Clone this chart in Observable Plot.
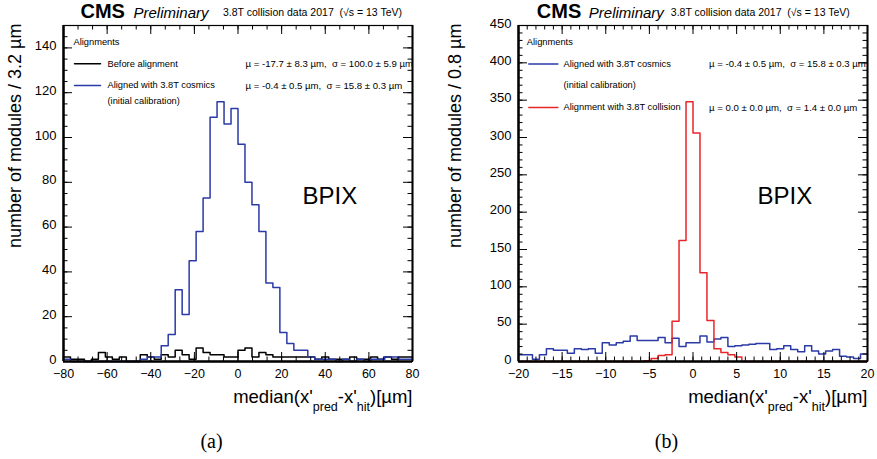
<!DOCTYPE html>
<html><head><meta charset="utf-8">
<script src="https://cdn.jsdelivr.net/npm/d3@7"></script>
<script src="https://cdn.jsdelivr.net/npm/@observablehq/plot@0.6"></script>
<style>
body{margin:0;background:#fff;}
#wrap{display:flex;width:877px;height:459px;overflow:hidden;}
svg text{white-space:pre;}
</style></head><body><div id="wrap"></div>
<script>
// ---------- data ----------
// left panel (a): bins of 3.2 µm from -80 to 80
const leftBinStart = -80, leftBinWidth = 3.2;
const leftBefore = [2,1,1,0,1,4,2,1,2,0, 0,3,2,1,3,2,5,3,1,6, 4,3,3,2,2,5,6,2,4,3, 2,2,2,2,2,2,1,2,1,1, 1,2,1,1,2,1,2,1,2,2];
const leftCosmics = [1,0,0,0,0,0,0,0,0,0, 0,1,2,2,7,12,32,21,45,58, 73,109,116,106,113,97,80,70,58,35, 33,13,8,5,5,2,1,1,1,0, 1,0,1,0,1,1,2,2,1,1];
// right panel (b): bins of 0.8 µm from -20 to 20
const rightBinStart = -20, rightBinWidth = 0.8;
const rightCosmics = [9,9,3,9,17,15,15,11,17,16, 17,11,25,22,25,27,34,28,28,28, 32,25,31,20,25,25,34,26,30,32, 20,21,22,23,24,24,16,17,21,16, 13,21,14,10,14,16,7,6,4,10];
const rightCollision = [0,0,0,0,0,0,0,0,0,0, 0,0,0,0,0,0,0,0,1,4, 8,9,54,162,348,306,119,55,17,12, 9,6,0,0,0,0,0,0,0,0, 0,0,0,0,0,0,0,0,0,0];

const leftXDomain = [-80, 80], leftYDomain = [0, 150];
const rightXDomain = [-20, 20], rightYDomain = [0, 450];
const leftXTicks = [-80,-60,-40,-20,0,20,40,60,80];
const leftYTicks = [0,20,40,60,80,100,120,140];
const rightXTicks = [-20,-15,-10,-5,0,5,10,15,20];
const rightYTicks = [0,50,100,150,200,250,300,350,400,450];

const leftYLabel = "number of modules / 3.2 µm";
const rightYLabel = "number of modules / 0.8 µm";
const xLabelParts = ["median(x'", "pred", "-x'", "hit", ")[µm]"];
const panelTags = ["(a)", "(b)"];
const regionLabel = "BPIX";
const titleParts = ["CMS", "Preliminary", "3.8T collision data 2017  (√s = 13 TeV)"];
const legendHeader = "Alignments";
const leftLegend = [
  {name: "Before alignment", stats: "µ = -17.7 ± 8.3 µm,  σ = 100.0 ± 5.9 µm", color: "#000000"},
  {name: "Aligned with 3.8T cosmics", stats: "µ = -0.4 ± 0.5 µm,  σ = 15.8 ± 0.3 µm", color: "#2a3aa6", sub: "(initial calibration)"}
];
const rightLegend = [
  {name: "Aligned with 3.8T cosmics", stats: "µ = -0.4 ± 0.5 µm,  σ = 15.8 ± 0.3 µm", color: "#2a3aa6", sub: "(initial calibration)"},
  {name: "Alignment with 3.8T collision", stats: "µ = 0.0 ± 0.0 µm,  σ = 1.4 ± 0.0 µm", color: "#e8262a"}
];

// ---------- helpers ----------
function steps(counts, start, width) {
  const pts = counts.map((c, i) => ({x: start + i * width, y: c}));
  pts.push({x: start + counts.length * width, y: counts[counts.length - 1]});
  return pts;
}
const lineShape = {draw(ctx, l) { ctx.moveTo(0, 0); ctx.lineTo(0, -l); }};
const FONT = "Liberation Sans, Arial, Helvetica, sans-serif";

function panel(cfg) {
  const W = cfg.width - cfg.ml - cfg.mr, H = cfg.height - cfg.mt - cfg.mb;
  const marks = [];
  for (const h of cfg.hists) {
    marks.push(Plot.line(steps(h.counts, cfg.binStart, cfg.binWidth), {x: "x", y: "y", curve: "step-after", stroke: h.color, strokeWidth: 1.5}));
  }
  marks.push(Plot.frame({stroke: "#000", strokeWidth: 1.2}));
  marks.push(Plot.ruleX([cfg.xDomain[0]], {stroke: "#000", strokeWidth: 2.5}));
  marks.push(Plot.ruleX([cfg.xDomain[1]], {stroke: "#000", strokeWidth: 2}));
  marks.push(Plot.ruleY([cfg.yDomain[0]], {stroke: "#000", strokeWidth: 2.5}));
  const maj = 9, mnr = 4.5;
  marks.push(Plot.ruleX(cfg.xMinor, {insetTop: H - mnr, stroke: "#000", strokeWidth: 1}));
  marks.push(Plot.ruleX(cfg.xMinor, {insetBottom: H - mnr, stroke: "#000", strokeWidth: 1}));
  marks.push(Plot.ruleX(cfg.xTicks, {insetTop: H - maj, stroke: "#000", strokeWidth: 1}));
  marks.push(Plot.ruleX(cfg.xTicks, {insetBottom: H - maj, stroke: "#000", strokeWidth: 1}));
  marks.push(Plot.ruleY(cfg.yMinor, {insetRight: W - mnr, stroke: "#000", strokeWidth: 1}));
  marks.push(Plot.ruleY(cfg.yMinor, {insetLeft: W - mnr, stroke: "#000", strokeWidth: 1}));
  marks.push(Plot.ruleY(cfg.yTicks, {insetRight: W - maj, stroke: "#000", strokeWidth: 1}));
  marks.push(Plot.ruleY(cfg.yTicks, {insetLeft: W - maj, stroke: "#000", strokeWidth: 1}));
  marks.push(Plot.axisX(cfg.xTicks, {anchor: "bottom", tickSize: 0, tickPadding: 8, fontSize: 12.5, label: null, fill: "#000"}));
  marks.push(Plot.axisY(cfg.yTicks, {anchor: "left", tickSize: 0, tickPadding: 7, fontSize: 13, label: null, fill: "#000", dy: -2}));
  marks.push(Plot.text([cfg.yLabel], {text: d => d, frameAnchor: "top-left", dx: cfg.yLabelDx, dy: -2, rotate: -90, textAnchor: "end", lineAnchor: "middle", fontSize: 18, fill: "#000"}));
  marks.push(Plot.text([xLabelParts.join("")], {text: d => d, frameAnchor: "bottom-right", dx: 0, dy: 41, textAnchor: "end", lineAnchor: "bottom", fontSize: 18.5, fill: "#000"}));
  marks.push(Plot.text([cfg.tag], {text: d => d, frameAnchor: "bottom-left", dx: 148, dy: 80, textAnchor: "middle", lineAnchor: "middle", fontSize: 20, fontFamily: "Liberation Serif, DejaVu Serif, serif", fill: "#000"}));
  marks.push(Plot.text([regionLabel], {text: d => d, frameAnchor: "top-left", dx: 239, dy: 178, textAnchor: "start", lineAnchor: "bottom", fontSize: 24, fill: "#000"}));
  marks.push(Plot.text([titleParts[0]], {text: d => d, frameAnchor: "top-left", dx: cfg.titleDx[0], dy: -7.5, textAnchor: "start", lineAnchor: "bottom", fontSize: 20, fontWeight: "bold", fill: "#000"}));
  marks.push(Plot.text([titleParts[1]], {text: d => d, frameAnchor: "top-left", dx: cfg.titleDx[1], dy: -8, textAnchor: "start", lineAnchor: "bottom", fontSize: 15, fontStyle: "italic", fill: "#000"}));
  marks.push(Plot.text([titleParts[2]], {text: d => d, frameAnchor: "top-left", dx: cfg.titleDx[2], dy: -10, textAnchor: "start", lineAnchor: "bottom", fontSize: 10.5, fill: "#000"}));
  const lf = 9.3;
  marks.push(Plot.text([legendHeader], {text: d => d, frameAnchor: "top-left", dx: cfg.legHeadDx, dy: 17, textAnchor: "start", lineAnchor: "middle", fontSize: lf, fill: "#000"}));
  for (const e of cfg.legend) {
    marks.push(Plot.vector([e], {frameAnchor: "top-left", dx: cfg.legLineDx, dy: e.dy, rotate: 90, length: cfg.legLineLen, anchor: "start", shape: lineShape, stroke: e.color, strokeWidth: 1.5}));
    marks.push(Plot.text([e], {text: "name", frameAnchor: "top-left", dx: cfg.legTextDx, dy: e.dy, textAnchor: "start", lineAnchor: "middle", fontSize: lf, fill: "#000"}));
    marks.push(Plot.text([e], {text: "stats", frameAnchor: "top-left", dx: cfg.legStatsDx, dy: e.dy, textAnchor: "start", lineAnchor: "middle", fontSize: 9.6, fill: "#000", clip: "frame"}));
    if (e.sub) marks.push(Plot.text([e], {text: "sub", frameAnchor: "top-left", dx: cfg.legTextDx, dy: e.subDy, textAnchor: "start", lineAnchor: "middle", fontSize: lf, fill: "#000"}));
  }
  const svg = Plot.plot({
    width: cfg.width, height: cfg.height,
    marginLeft: cfg.ml, marginRight: cfg.mr, marginTop: cfg.mt, marginBottom: cfg.mb,
    x: {domain: cfg.xDomain}, y: {domain: cfg.yDomain},
    style: {fontFamily: FONT, background: "#fff", color: "#000", overflow: "visible"},
    marks
  });
  const full = xLabelParts.join("");
  for (const t of svg.querySelectorAll("text")) {
    if (t.textContent === full) {
      t.textContent = "";
      xLabelParts.forEach((p, i) => {
        const ts = document.createElementNS("http://www.w3.org/2000/svg", "tspan");
        ts.textContent = p;
        if (i % 2 === 1) { ts.setAttribute("font-size", "12.5"); ts.setAttribute("dy", "8"); }
        else if (i > 0) ts.setAttribute("dy", "-8");
        t.appendChild(ts);
      });
    }
  }
  return svg;
}

const wrap = document.getElementById("wrap");
wrap.appendChild(panel({
  width: 438, height: 459, ml: 63, mr: 26, mt: 25, mb: 98,
  xDomain: leftXDomain, yDomain: leftYDomain,
  xTicks: leftXTicks, yTicks: leftYTicks,
  xMinor: d3.range(leftXDomain[0], leftXDomain[1] + 1e-6, 20 / 3),
  yMinor: d3.range(leftYDomain[0], leftYDomain[1] + 1e-6, 5),
  binStart: leftBinStart, binWidth: leftBinWidth,
  hists: [{counts: leftBefore, color: leftLegend[0].color}, {counts: leftCosmics, color: leftLegend[1].color}],
  yLabel: leftYLabel, yLabelDx: -48, tag: panelTags[0],
  titleDx: [17, 70, 159.5],
  legHeadDx: 10, legLineDx: 11, legLineLen: 26, legTextDx: 44, legStatsDx: 182,
  legend: [Object.assign({dy: 38.3}, leftLegend[0]), Object.assign({dy: 60, subDy: 75.7}, leftLegend[1])]
}));
wrap.appendChild(panel({
  width: 439, height: 459, ml: 80, mr: 10, mt: 25, mb: 98,
  xDomain: rightXDomain, yDomain: rightYDomain,
  xTicks: rightXTicks, yTicks: rightYTicks,
  xMinor: d3.range(rightXDomain[0], rightXDomain[1] + 1e-6, 1),
  yMinor: d3.range(rightYDomain[0], rightYDomain[1] + 1e-6, 10),
  binStart: rightBinStart, binWidth: rightBinWidth,
  hists: [{counts: rightCosmics, color: rightLegend[0].color}, {counts: rightCollision, color: rightLegend[1].color}],
  yLabel: rightYLabel, yLabelDx: -63, tag: panelTags[1],
  titleDx: [18.3, 70.3, 152.3],
  legHeadDx: 8.3, legLineDx: 10.3, legLineLen: 29, legTextDx: 45, legStatsDx: 190.6,
  legend: [Object.assign({dy: 38.5, subDy: 60}, rightLegend[0]), Object.assign({dy: 82}, rightLegend[1])]
}));
</script></body></html>
